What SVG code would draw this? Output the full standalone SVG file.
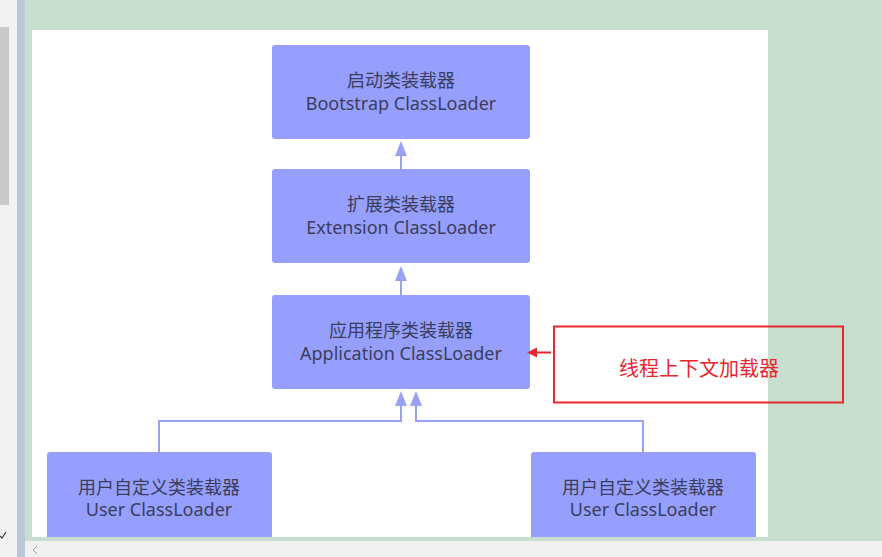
<svg xmlns="http://www.w3.org/2000/svg" width="882" height="557" viewBox="0 0 882 557">
<style>
.node{fill:#969ffd;}
.t{font-family:"Noto Sans","Noto Sans CJK SC",sans-serif;font-size:18px;fill:#3a3e5c;text-anchor:middle;}
.c{fill:none;stroke:#9aa1f2;stroke-width:2;}
.ah{fill:#9aa1f2;}
</style>
<rect x="0" y="0" width="882" height="557" fill="#c8dfcf"/>
<rect x="0" y="0" width="17" height="557" fill="#f2f2f2"/>
<rect x="0" y="27" width="9" height="178" fill="#c9c9c9"/>
<rect x="17" y="0" width="8" height="557" fill="#b9c7d6"/>
<rect x="32" y="30" width="736" height="507" fill="#ffffff"/>
<g id="bootstrap">
<rect class="node" x="272" y="45" width="258" height="94" rx="3"/>
<text class="t" x="401" y="87">启动类装载器</text>
<text class="t" x="401" y="110">Bootstrap ClassLoader</text>
</g>
<g id="extension">
<rect class="node" x="272" y="169" width="258" height="94" rx="3"/>
<text class="t" x="401" y="211">扩展类装载器</text>
<text class="t" x="401" y="234">Extension ClassLoader</text>
</g>
<g id="application">
<rect class="node" x="272" y="295" width="258" height="94" rx="3"/>
<text class="t" x="401" y="337">应用程序类装载器</text>
<text class="t" x="401" y="360">Application ClassLoader</text>
</g>
<g id="user1">
<rect class="node" x="47" y="452" width="225" height="100" rx="3"/>
<text class="t" x="159" y="494">用户自定义类装载器</text>
<text class="t" x="159" y="516">User ClassLoader</text>
</g>
<g id="user2">
<rect class="node" x="531" y="452" width="225" height="100" rx="3"/>
<text class="t" x="643" y="494">用户自定义类装载器</text>
<text class="t" x="643" y="516">User ClassLoader</text>
</g>
<g id="connectors">
<line class="c" x1="401" y1="169" x2="401" y2="154"/>
<polygon class="ah" points="401,141 395,156 407,156"/>
<line class="c" x1="401" y1="295" x2="401" y2="280"/>
<polygon class="ah" points="401,266 395,281 407,281"/>
<polyline class="c" points="159,452 159,421 401,421 401,404"/>
<polygon class="ah" points="401,391 395,406 407,406"/>
<polyline class="c" points="643,452 643,421 416,421 416,404"/>
<polygon class="ah" points="416,391 410,406 422,406"/>
<line x1="551" y1="352.5" x2="534" y2="352.5" stroke="#e8262e" stroke-width="2"/>
<polygon points="527,352.5 537,347.5 537,357.5" fill="#e8262e"/>
</g>
<g id="context">
<rect x="554" y="326.5" width="289" height="76" fill="none" stroke="#e8262e" stroke-width="2"/>
<text x="699" y="376" font-family="Noto Sans CJK SC,sans-serif" font-size="20" fill="#e8262e" text-anchor="middle">线程上下文加载器</text>
</g>
<rect x="25" y="537" width="857" height="4" fill="#c8dfcf"/>
<rect x="0" y="541" width="882" height="16" fill="#f0f0f0"/>
<rect x="0" y="537" width="17" height="20" fill="#f2f2f2"/>
<rect x="17" y="537" width="8" height="20" fill="#b9c7d6"/>
<polyline points="37,546 33,550 37,554" fill="none" stroke="#a0a0a0" stroke-width="1"/>
<polyline points="0,536 2,538 6,532" fill="none" stroke="#404040" stroke-width="1.2"/>
</svg>
